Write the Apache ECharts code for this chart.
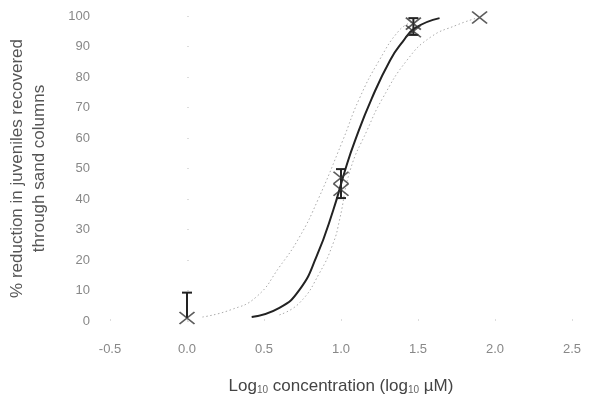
<!DOCTYPE html>
<html><head><meta charset="utf-8">
<script src="https://cdn.jsdelivr.net/npm/echarts@6/dist/echarts.min.js"></script>
<style>html,body{margin:0;padding:0;background:#fff}#c{width:594px;height:406px}</style>
</head><body><div id="c"></div>
<script>
// Observed data points: [log10 concentration, % reduction]
const pointX = [0.0, 1.0, 1.0, 1.47, 1.47, 1.9];
const pointY = [1, 47, 43, 97.5, 95, 99.5];
// Error bars: [x, low, high]
const errX = [0.0, 1.0, 1.47];
const errLow = [1, 40.3, 93.8];
const errHigh = [9.3, 49.8, 99.3];
// Fitted curve
const fitX = [0.42, 0.60, 0.73, 0.84, 0.95, 1.03, 1.09, 1.20, 1.32, 1.40, 1.48, 1.64];
const fitY = [1.3, 4.3, 10.2, 21, 36.4, 50, 59, 73, 85.6, 91.5, 96, 99.3];
// Upper confidence band (left dotted)
const upX = [0.10, 0.28, 0.45, 0.60, 0.73, 0.85, 1.01, 1.12, 1.25, 1.38, 1.46];
const upY = [1.3, 3.6, 7.9, 17.7, 27.5, 39.7, 59, 73, 85.6, 95.4, 98];
// Lower confidence band (right dotted)
const loX = [0.60, 0.73, 0.86, 0.95, 0.99, 1.06, 1.17, 1.27, 1.43, 1.58, 1.75, 1.88];
const loY = [2, 5.9, 15.7, 25.6, 33, 49.5, 62.6, 73, 85.6, 93, 97, 99.3];
// Axis ticks
const xTicks = {min: -0.5, max: 2.5, step: 0.5};
const yTicks = {min: 0, max: 100, step: 10};

const zip = (a, b) => a.map((v, i) => [v, b[i]]);
const font = 'Liberation Sans, Arial, sans-serif';
const chart = echarts.init(document.getElementById('c'));
chart.setOption({
  animation: false,
  grid: {left: 110, right: 22, top: 16, bottom: 85, containLabel: false, outerBoundsMode: 'none'},
  xAxis: {
    type: 'value', min: xTicks.min, max: xTicks.max, interval: xTicks.step,
    axisLine: {show: false},
    axisTick: {show: true, length: 2, inside: true, lineStyle: {color: '#ddd'}},
    splitLine: {show: false},
    axisLabel: {margin: 22, color: '#888', fontSize: 13, fontFamily: font,
      formatter: v => v.toFixed(1)},
    name: '{a|Log}{s|10}{a| concentration (log}{s|10}{a| µM)}',
    nameLocation: 'middle', nameGap: 52,
    nameTextStyle: {
      rich: {
        a: {fontSize: 17, color: '#444', fontFamily: font, lineHeight: 22, verticalAlign: 'bottom'},
        s: {fontSize: 10, color: '#666', fontFamily: font, lineHeight: 11, verticalAlign: 'bottom'}
      }
    }
  },
  yAxis: {
    type: 'value', min: yTicks.min, max: yTicks.max, interval: yTicks.step,
    axisLine: {show: false},
    axisTick: {show: true, length: 2, inside: true, lineStyle: {color: '#ddd'}},
    splitLine: {show: false},
    axisLabel: {margin: 20, color: '#888', fontSize: 13, fontFamily: font},
    name: '% reduction in juveniles recovered\nthrough sand columns',
    nameLocation: 'middle', nameGap: 60, nameRotate: 90,
    nameTextStyle: {fontSize: 17, color: '#555', fontFamily: font, lineHeight: 22}
  },
  series: [
    {type: 'line', data: zip(upX, upY), smooth: true, showSymbol: false,
      lineStyle: {color: '#aaa', width: 1, type: [1.5, 2.5]}},
    {type: 'line', data: zip(loX, loY), smooth: true, showSymbol: false,
      lineStyle: {color: '#aaa', width: 1, type: [1.5, 2.5]}},
    {type: 'line', data: zip(fitX, fitY), smooth: true, showSymbol: false,
      lineStyle: {color: '#222', width: 2}},
    {type: 'custom',
      data: errX.map((x, i) => [x, errLow[i], errHigh[i]]),
      renderItem: (params, api) => {
        const lo = api.coord([api.value(0), api.value(1)]);
        const hi = api.coord([api.value(0), api.value(2)]);
        const w = 5;
        const children = [
          {type: 'line', shape: {x1: hi[0], y1: hi[1], x2: lo[0], y2: lo[1]}, style: {stroke: '#222', lineWidth: 2}},
          {type: 'line', shape: {x1: hi[0] - w, y1: hi[1], x2: hi[0] + w, y2: hi[1]}, style: {stroke: '#222', lineWidth: 2}}
        ];
        if (params.dataIndex > 0) {
          children.push({type: 'line', shape: {x1: lo[0] - w, y1: lo[1], x2: lo[0] + w, y2: lo[1]}, style: {stroke: '#222', lineWidth: 2}});
        }
        return {type: 'group', children};
      }, z: 5},
    {type: 'scatter', data: zip(pointX, pointY),
      symbol: 'path://M0,0L10,8M10,0L0,8', symbolSize: [15, 12],
      itemStyle: {color: 'rgba(0,0,0,0)', borderColor: '#333', borderWidth: 1.6}, z: 6}
  ]
});
</script></body></html>
